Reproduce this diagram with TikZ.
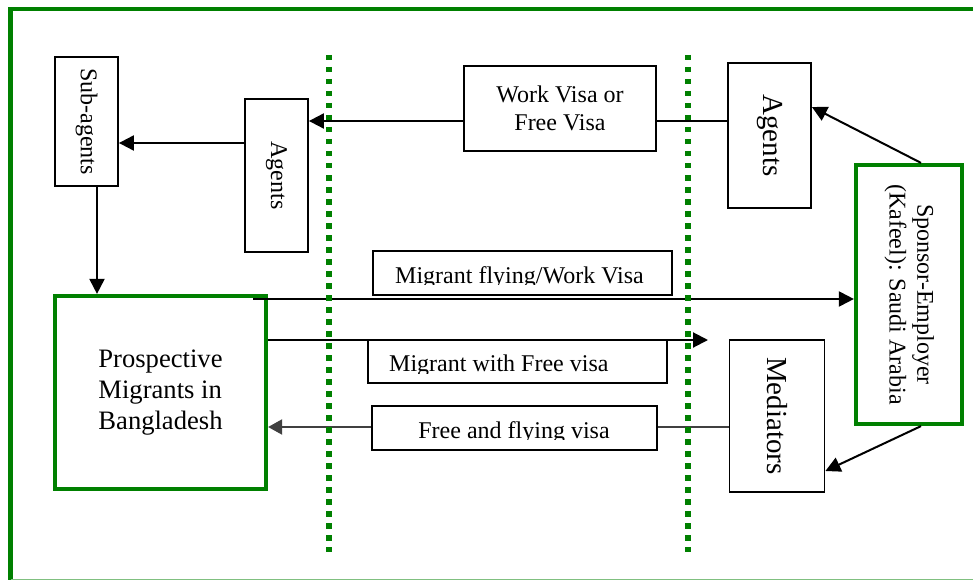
\documentclass[tikz,border=0pt]{standalone}
\usepackage{fontspec}
\setmainfont{Liberation Serif}
\usepackage{graphicx}
\usetikzlibrary{arrows.meta}
\definecolor{fgreen}{RGB}{0,128,0}
\definecolor{lgreen}{RGB}{128,192,128}
\definecolor{dgray}{RGB}{64,64,64}
\begin{document}
\begin{tikzpicture}[x=1pt,y=-1pt,
  box/.style={draw=black, line width=1.8pt, inner sep=0pt},
  gbox/.style={draw=fgreen, line width=4.2pt, inner sep=0pt},
  conn/.style={draw=black, line width=2pt},
  arr/.style={conn, -{Triangle[length=15pt,width=15pt]}},
  gconn/.style={draw=dgray, line width=2pt},
  garr/.style={gconn, -{Triangle[length=14pt,width=15pt]}},
  txt/.style={font=\fontsize{24}{27.6}\selectfont},
  big/.style={font=\fontsize{29}{33}\selectfont},
  vdots/.style={draw=fgreen, line width=5.5pt, dash pattern=on 5.5pt off 6.5pt}
]
\useasboundingbox (0,0) rectangle (973,580);

% outer frame
\draw[fgreen, line width=4.3pt] (10.5,580) -- (10.5,8.7) -- (973,8.7);
\draw[lgreen, line width=1pt] (10.5,579.3) -- (973,579.3);

% boxes
\node[box, txt, minimum width=63pt, minimum height=129pt] (sub) at (86.5,121.5) {\rotatebox{-90}{Sub-agents}};
\node[box, txt, minimum width=63pt, minimum height=153pt] (agL) at (276.5,175.5) {\rotatebox{-90}{Agents}};
\node[box, txt, minimum width=192pt, minimum height=85pt, align=center] (wv) at (560,108.5) {Work Visa or\\Free Visa};
\node[box, big, minimum width=83pt, minimum height=145pt] (agR) at (769.5,135.5) {\rotatebox{-90}{Agents}};
\node[gbox, txt, minimum width=106pt, minimum height=259pt] (sp) at (909,294.5) {\rotatebox{-90}{\begin{tabular}{@{}c@{}}Sponsor-Employer\\(Kafeel): Saudi Arabia\end{tabular}}};
\node[gbox, minimum width=211pt, minimum height=193pt, font=\fontsize{26.6}{31}\selectfont, align=left] (pm) at (160.5,392.5) {Prospective\\Migrants in\\Bangladesh};
\node[box, big, minimum width=95pt, minimum height=152pt] (med) at (777,416) {\rotatebox{-90}{Mediators}};
\node[box, minimum width=299pt, minimum height=44pt] (mf) at (522.5,273) {};
\node[box, minimum width=299pt, minimum height=43pt] (mw) at (517.5,361.5) {};
\node[box, minimum width=285pt, minimum height=44pt] (ff) at (514.5,428) {};

% clipped labels
\begin{scope}
\clip (mf.north west) rectangle ([yshift=11pt]mf.south east);
\node[txt, anchor=base, inner sep=0pt] (mft) at (519.5,283) {Migrant flying/Work Visa};
\end{scope}
\begin{scope}
\clip (mw.north west) rectangle ([yshift=10pt]mw.south east);
\node[txt, anchor=base west, inner sep=0pt] (mwt) at (389,371.7) {Migrant with Free visa};
\end{scope}
\begin{scope}
\clip (ff.north west) rectangle ([yshift=11pt]ff.south east);
\node[txt, anchor=base, inner sep=0pt] (fft) at (514,438) {Free and flying visa};
\end{scope}

% helper coordinates
\coordinate (r1) at (0,121);
\coordinate (r2) at (0,143);
\coordinate (c1) at (97,0);
\coordinate (r3) at (0,299);
\coordinate (fs) at (253,299);
\coordinate (r4) at (0,340);
\coordinate (tipA) at (708,340);
\coordinate (r5) at (0,427);

% connectors
\draw[conn] (agR.west |- r1) -- (wv.east |- r1);
\draw[arr] (wv.west |- r1) -- (agL.east |- r1);
\draw[arr] (agL.west |- r2) -- (sub.east |- r2);
\draw[arr] (sub.south -| c1) -- (pm.north -| c1);
\draw[arr] ([xshift=12pt]sp.north) -- ([yshift=28.5pt]agR.east);
\draw[arr] ([xshift=12pt]sp.south) -- ([yshift=-55pt]med.east);
\draw[arr] (fs) -- (sp.west |- r3);
\draw[arr] (pm.east |- r4) -- (tipA);
\draw[gconn] (med.west |- r5) -- (ff.east |- r5);
\draw[garr] (ff.west |- r5) -- (pm.east |- r5);

% dotted separators
\coordinate (d1t) at (329,55);
\coordinate (d1b) at (329,552);
\coordinate (d2t) at (688,55);
\coordinate (d2b) at (688,552);
\draw[vdots] (d1t) -- (d1b);
\draw[vdots] (d2t) -- (d2b);
\end{tikzpicture}
\end{document}
